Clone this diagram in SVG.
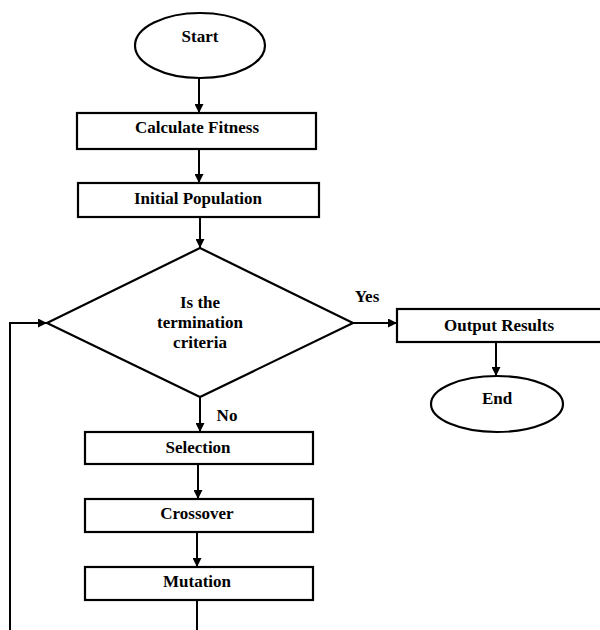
<svg xmlns="http://www.w3.org/2000/svg" width="600" height="630" viewBox="0 0 600 630">
<style>
.s{fill:#fff;stroke:#000;stroke-width:2.2}
text{font-family:'Liberation Serif','DejaVu Serif',serif;font-weight:700;font-size:17px;fill:#000;text-anchor:middle}
.c{fill:none;stroke:#000;stroke-width:2}
</style>
<defs>
<marker id="a" viewBox="0 0 10 10" refX="10" refY="5" markerWidth="4.5" markerHeight="4.5" orient="auto" markerUnits="strokeWidth">
<path d="M0,0L10,5L0,10z" fill="#000"/>
</marker>
</defs>
<rect width="600" height="630" fill="#fff"/>
<g id="connectors">
<line class="c" x1="199" y1="78" x2="199" y2="113" marker-end="url(#a)"/>
<line class="c" x1="199" y1="149" x2="199" y2="183" marker-end="url(#a)"/>
<line class="c" x1="200" y1="217" x2="200" y2="248" marker-end="url(#a)"/>
<line class="c" x1="353" y1="323" x2="397" y2="323" marker-end="url(#a)"/>
<line class="c" x1="496" y1="342" x2="496" y2="376" marker-end="url(#a)"/>
<line class="c" x1="200" y1="397" x2="200" y2="432" marker-end="url(#a)"/>
<line class="c" x1="198" y1="464" x2="198" y2="499" marker-end="url(#a)"/>
<line class="c" x1="197" y1="532" x2="197" y2="567" marker-end="url(#a)"/>
<polyline class="c" points="197,600 197,630"/>
<polyline class="c" points="10,630 10,323 47,323" marker-end="url(#a)"/>
<text x="367" y="302">Yes</text>
<text x="227" y="421">No</text>
</g>
<g id="start">
<ellipse class="s" cx="200" cy="45.5" rx="65" ry="32.5"/>
<text x="200" y="42">Start</text>
</g>
<g id="calc">
<rect class="s" x="77" y="113" width="239" height="36"/>
<text x="197" y="133">Calculate Fitness</text>
</g>
<g id="init">
<rect class="s" x="78" y="183" width="241" height="34"/>
<text x="198" y="204">Initial Population</text>
</g>
<g id="decision">
<polygon class="s" points="200,248 353,323 200,397 47,323"/>
<text x="200" y="308">Is the</text>
<text x="200" y="328">termination</text>
<text x="200" y="348">criteria</text>
</g>
<g id="output">
<rect class="s" x="397" y="309" width="215" height="33"/>
<text x="499" y="331">Output Results</text>
</g>
<g id="end">
<ellipse class="s" cx="497" cy="404" rx="66" ry="28"/>
<text x="497" y="404">End</text>
</g>
<g id="selection">
<rect class="s" x="85" y="432" width="228" height="32"/>
<text x="198" y="453">Selection</text>
</g>
<g id="crossover">
<rect class="s" x="85" y="499" width="228" height="33"/>
<text x="197" y="519">Crossover</text>
</g>
<g id="mutation">
<rect class="s" x="85" y="567" width="228" height="33"/>
<text x="197" y="587">Mutation</text>
</g>
</svg>
